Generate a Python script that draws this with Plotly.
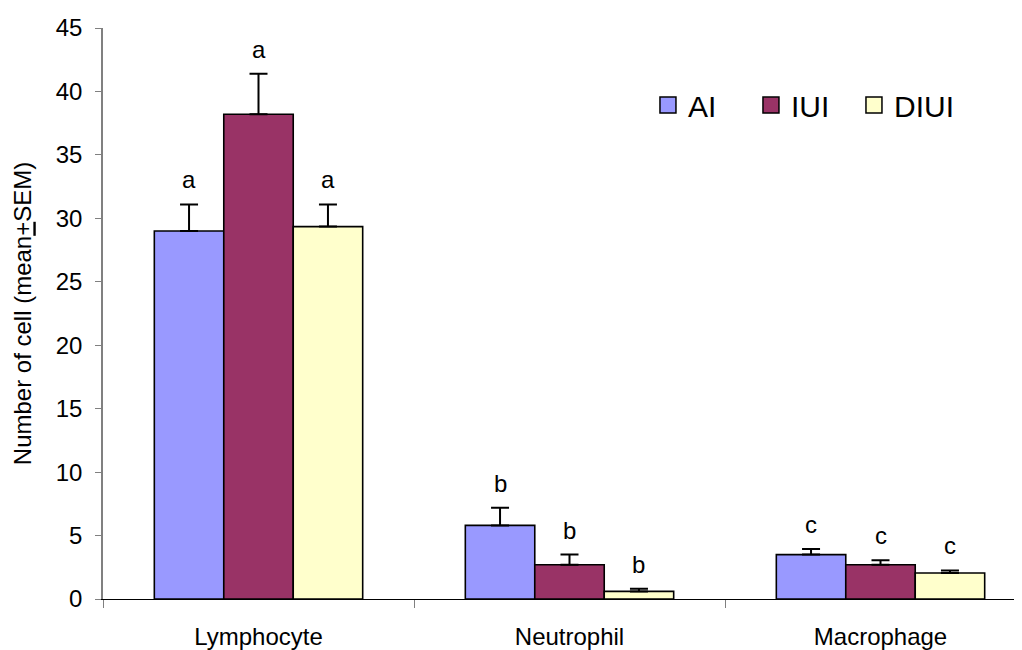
import plotly.graph_objects as go

categories = ["Lymphocyte", "Neutrophil", "Macrophage"]
series_names = ["AI", "IUI", "DIUI"]
mean_ai = [29.0, 5.8, 3.5]
mean_iui = [38.2, 2.7, 2.7]
mean_diui = [29.35, 0.6, 2.05]
sem_ai = [2.1, 1.4, 0.45]
sem_iui = [3.2, 0.8, 0.35]
sem_diui = [1.75, 0.2, 0.2]
letters = ["a", "b", "c"]
yticks = [0, 5, 10, 15, 20, 25, 30, 35, 40, 45]

colors = ["#9999FF", "#993366", "#FFFFCC"]
means = [mean_ai, mean_iui, mean_diui]
sems = [sem_ai, sem_iui, sem_diui]

FONT = "Liberation Sans, Arial, sans-serif"
BARGAP = 0.33

fig = go.Figure()
for name, col, m, s in zip(series_names, colors, means, sems):
    fig.add_trace(go.Bar(
        x=categories, y=m, name=name, showlegend=False,
        marker=dict(color=col, line=dict(color="black", width=1.6)),
        error_y=dict(type="data", array=s, arrayminus=[0] * len(s),
                     symmetric=False, color="black", thickness=2, width=9),
    ))
    # legend proxy (larger square swatch)
    fig.add_trace(go.Scatter(
        x=[None], y=[None], mode="markers", name=name,
        marker=dict(symbol="square", size=16, color=col,
                    line=dict(color="black", width=1.5)),
    ))

# significance letters above each error bar
n = len(series_names)
bw = (1 - BARGAP) / n
for j, (m, s) in enumerate(zip(means, sems)):
    for i, cat in enumerate(categories):
        fig.add_annotation(
            x=i + (j - (n - 1) / 2) * bw, y=m[i] + s[i], xref="x", yref="y",
            text=letters[i], showarrow=False, yanchor="bottom", yshift=9,
            font=dict(family=FONT, size=24, color="black"),
        )

# page body has an 8px default margin, so the figure starts at (8, 8)
W, H = 1014, 642
ML, MR, MT, MB = 95, 0, 20, 51
cat_px = 311
xmax = -0.5 + (W - ML - MR) / cat_px

fig.update_layout(
    width=W, height=H,
    margin=dict(l=ML, r=MR, t=MT, b=MB, autoexpand=False),
    paper_bgcolor="white", plot_bgcolor="white",
    barmode="group", bargap=BARGAP, bargroupgap=0,
    font=dict(family=FONT, color="black"),
    legend=dict(orientation="h", x=0.593, y=0.865, xanchor="left", yanchor="middle",
                font=dict(family=FONT, size=30, color="black"),
                bgcolor="rgba(0,0,0,0)", itemwidth=30, entrywidth=58,
                tracegroupgap=0),
    xaxis=dict(
        type="category", range=[-0.5, xmax], showline=True, linecolor="black", linewidth=1,
        ticks="outside", tickson="boundaries", ticklen=8, tickcolor="#808080", tickwidth=1,
        tickfont=dict(family=FONT, size=24, color="black"), ticklabelstandoff=16,
        showgrid=False, zeroline=False, automargin=False,
    ),
    yaxis=dict(
        range=[0, 45], tickvals=yticks, showline=True, linecolor="#808080", linewidth=1.5,
        ticks="outside", ticklen=6, tickcolor="#808080", tickwidth=1,
        tickfont=dict(family=FONT, size=24, color="black"), ticklabelstandoff=8,
        showgrid=False, zeroline=False, automargin=False,
        title=dict(text="Number of cell (mean<u>+</u>SEM)",
                   font=dict(family=FONT, size=24, color="black"), standoff=17),
    ),
)

fig.write_html("out.html")
